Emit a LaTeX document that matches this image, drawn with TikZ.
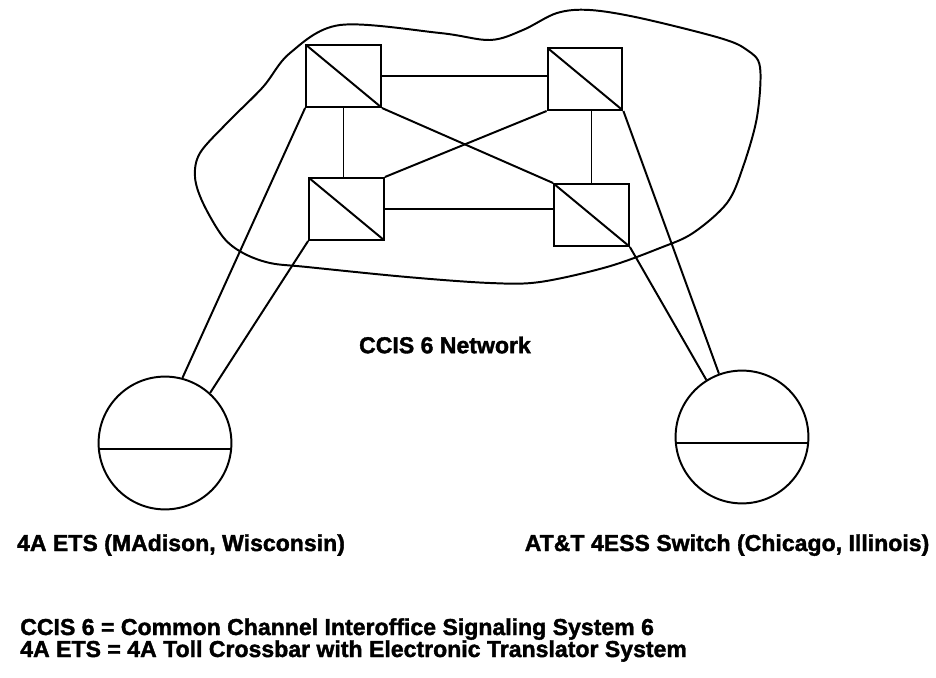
\documentclass[tikz,border=0pt]{standalone}
\usepackage{fontspec}
\setmainfont{Liberation Sans}
\newfontfamily\blackfont[FakeBold=1.6]{Liberation Sans Bold}
\usetikzlibrary{positioning}

\begin{document}
\begin{tikzpicture}[
    x=0.025cm, y=-0.025cm,
    stp/.style={draw, rectangle, line width=1.4pt, minimum width=1.87cm, minimum height=1.55cm, inner sep=0pt,
        path picture={\draw[line width=1.4pt] (path picture bounding box.north west) -- (path picture bounding box.south east);}},
    exch/.style={draw, circle, line width=1.4pt, minimum size=3.32cm, inner sep=0pt},
    link/.style={line width=1.4pt},
    lbl/.style={font=\fontsize{16.4}{20}\blackfont, inner sep=0pt}
]
\useasboundingbox (0,0) rectangle (936,678);

% Network cloud
\draw [link] plot [smooth cycle, tension=0.55] coordinates {
    (195,177) (200,153) (227,123) (263,87) (290,53) (340,25) (440,33) (490,40)
    (523,30) (557,13) (590,10) (640,18) (720,38) (747,50) (760,67) (757,117)
    (743,167) (727,203) (693,233) (660,248) (607,267) (540,282) (490,283)
    (407,277) (307,267) (270,263) (243,253) (223,237) (203,203)};

% Signal transfer points
\node (tl) [stp] at (343.5,76) {};
\node (tr) [stp] at (585,79) {};
\node (bl) [stp] at (346.5,209) {};
\node (br) [stp] at (591.5,215) {};

% Switches
\node (ets) [exch] at (165,443) {};
\node (ess) [exch] at (742,437) {};
\draw [link] (ets.185) -- (ets.-5);
\draw [link] (ess.185) -- (ess.-5);

% Labels
\node (net) [lbl] at (445,345) {CCIS 6 Network};
\node (etslbl) [lbl, anchor=base] at (181,551) {4A ETS (MAdison, Wisconsin)};
\node (esslbl) [lbl, anchor=base] at (727,551) {AT\&T 4ESS Switch (Chicago, Illinois)};
\node (legccis) [lbl, anchor=base west] at (20,635) {CCIS 6 = Common Channel Interoffice Signaling System 6};
\node (legets) [lbl, anchor=base west] at (20,657) {4A ETS = 4A Toll Crossbar with Electronic Translator System};

% Connections
\draw [link] (tl.east) -- (tl.east -| tr.west);
\draw [link] (bl.east) -- (bl.east -| br.west);
\draw [link] (tl.south) -- (tl.south |- bl.north);
\draw [link] (br.north) -- (br.north |- tr.south);
\draw [link] (tl.south east) -- (br.north west);
\draw [link] (tr.south west) -- (bl.north east);
\draw [link] (tl.south west) -- (ets.75);
\draw [link] (bl.south west) -- (ets.48);
\draw [link] (tr.south east) -- (ess.110);
\draw [link] (br.south east) -- (ess.122);

\end{tikzpicture}
\end{document}
